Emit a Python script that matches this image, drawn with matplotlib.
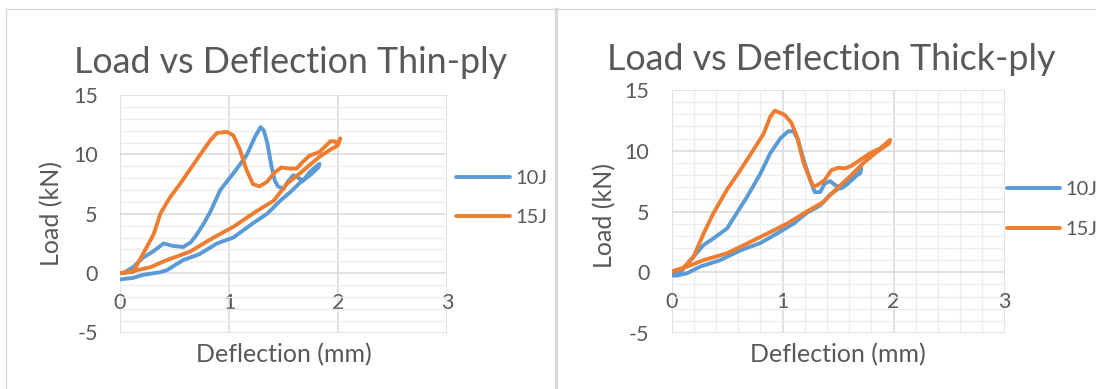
import matplotlib
matplotlib.use('Agg')
import matplotlib.pyplot as plt
from matplotlib.lines import Line2D
from matplotlib.ticker import MultipleLocator, NullLocator

plt.rcParams['font.family'] = ['Lato', 'DejaVu Sans']
plt.rcParams['axes.unicode_minus'] = False

W, H, DPI = 1096, 389, 100
TXT = '#595959'
GRID_MAJ = '#D9D9D9'
GRID_MIN = '#EDEDED'

series_names = ['10J', '15J']
series_colors = ['#5B9BD5', '#ED7D31']
titles = ['Load vs Deflection Thin-ply', 'Load vs Deflection Thick-ply']
x_label = 'Deflection (mm)'
y_label = 'Load (kN)'

# ---- Thin-ply data (loading then unloading) ----
thin_10J_x = [0.03, 0.12, 0.21, 0.30, 0.40, 0.48, 0.58, 0.65, 0.70, 0.77, 0.83, 0.92, 1.04, 1.16, 1.24,
              1.29, 1.32, 1.35, 1.39, 1.42, 1.45, 1.50, 1.54, 1.59, 1.64, 1.68, 1.74, 1.80, 1.83,
              1.82, 1.75, 1.65, 1.56, 1.47, 1.35, 1.22, 1.04, 0.89, 0.73, 0.58, 0.43, 0.37, 0.21, 0.12, 0.00]
thin_10J_y = [0.0, 0.5, 1.3, 1.8, 2.5, 2.3, 2.2, 2.6, 3.2, 4.2, 5.2, 7.0, 8.4, 9.9, 11.5,
              12.3, 12.0, 11.0, 9.0, 7.8, 7.3, 7.1, 7.7, 8.25, 8.0, 7.8, 8.5, 9.0, 9.2,
              8.9, 8.3, 7.6, 6.8, 6.1, 5.0, 4.2, 3.0, 2.5, 1.6, 1.1, 0.25, 0.08, -0.15, -0.4, -0.53]

thin_15J_x = [0.00, 0.12, 0.21, 0.31, 0.37, 0.46, 0.55, 0.64, 0.73, 0.83, 0.89, 0.98, 1.04, 1.10, 1.16,
              1.22, 1.28, 1.35, 1.41, 1.48, 1.56, 1.62, 1.68, 1.74, 1.83, 1.93, 1.97, 2.00, 2.02,
              1.99, 1.93, 1.83, 1.74, 1.65, 1.53, 1.41, 1.25, 1.04, 0.86, 0.64, 0.43, 0.28, 0.12, 0.00]
thin_15J_y = [0.0, 0.1, 1.6, 3.3, 5.0, 6.4, 7.5, 8.7, 9.9, 11.2, 11.8, 11.9, 11.6, 10.4, 8.7,
              7.5, 7.3, 7.7, 8.4, 8.9, 8.8, 8.8, 9.4, 9.9, 10.2, 11.1, 11.1, 10.8, 11.35,
              10.7, 10.4, 9.8, 9.1, 8.4, 7.5, 6.1, 5.2, 3.9, 3.0, 1.8, 1.1, 0.5, 0.17, 0.0]

# ---- Thick-ply data (loading then unloading) ----
thick_10J_x = [0.00, 0.10, 0.20, 0.29, 0.38, 0.50, 0.59, 0.68, 0.80, 0.89, 0.98, 1.05, 1.10, 1.14, 1.19,
               1.25, 1.29, 1.34, 1.38, 1.43, 1.47, 1.53, 1.59, 1.65, 1.70, 1.71,
               1.70, 1.64, 1.53, 1.43, 1.34, 1.22, 1.10, 0.98, 0.80, 0.62, 0.44, 0.26, 0.14, 0.05, 0.00]
thick_10J_y = [-0.2, 0.2, 1.3, 2.25, 2.8, 3.6, 4.9, 6.2, 8.1, 9.8, 11.0, 11.6, 11.6, 10.9, 9.25,
               7.6, 6.6, 6.6, 7.3, 7.5, 7.2, 6.9, 7.3, 7.9, 8.15, 8.6,
               8.3, 7.7, 7.05, 6.4, 5.5, 4.9, 4.0, 3.35, 2.4, 1.8, 1.0, 0.47, -0.08, -0.27, -0.27]

thick_15J_x = [0.00, 0.10, 0.20, 0.29, 0.38, 0.50, 0.62, 0.74, 0.83, 0.89, 0.93, 0.96, 1.02, 1.08, 1.13,
               1.19, 1.25, 1.28, 1.32, 1.38, 1.44, 1.50, 1.56, 1.62, 1.70, 1.79, 1.88, 1.97,
               1.96, 1.85, 1.73, 1.61, 1.49, 1.37, 1.22, 1.04, 0.80, 0.50, 0.29, 0.14, 0.00]
thick_15J_y = [0.05, 0.3, 1.3, 3.2, 4.9, 6.8, 8.4, 10.1, 11.4, 12.8, 13.3, 13.2, 12.95, 12.3, 11.2,
               9.0, 7.6, 7.05, 7.2, 7.6, 8.4, 8.6, 8.55, 8.75, 9.25, 9.8, 10.2, 10.9,
               10.6, 9.9, 9.0, 7.9, 6.9, 5.8, 5.0, 4.0, 2.9, 1.56, 1.0, 0.47, 0.05]

panels = [
    dict(title=titles[0], data=[(thin_10J_x, thin_10J_y), (thin_15J_x, thin_15J_y)], minor_x=False,
         box=(120, 95, 447, 332.5), title_pos=(291, 73.3), xlab_pos=(284, 362), ylab_pos=(52, 213),
         legend=(456, 510, [176.7, 216], 515)),
    dict(title=titles[1], data=[(thick_10J_x, thick_10J_y), (thick_15J_x, thick_15J_y)], minor_x=True,
         box=(671.5, 90, 1004.5, 333), title_pos=(831, 70), xlab_pos=(838, 362), ylab_pos=(605, 215),
         legend=(1007, 1060, [188, 228], 1065)),
]

fig = plt.figure(figsize=(W / DPI, H / DPI), dpi=DPI)
fig.patch.set_facecolor('white')


def fx(px):
    return px / W


def fy(py):
    return 1 - py / H


# chart borders
fig.add_artist(Line2D([fx(5.5), fx(5.5)], [fy(8.5), 0], color=GRID_MAJ, lw=1.0, transform=fig.transFigure))
fig.add_artist(Line2D([fx(5.5), 1], [fy(8.5), fy(8.5)], color=GRID_MAJ, lw=1.0, transform=fig.transFigure))
fig.add_artist(Line2D([fx(555.8), fx(555.8)], [fy(8.5), 0], color=GRID_MAJ, lw=2.3, transform=fig.transFigure))

for p in panels:
    l, t, r, b = p['box']
    w, h = r - l, b - t
    ax = fig.add_axes([fx(l), fy(b), w / W, h / H])
    for (xs, ys), c, name in zip(p['data'], series_colors, series_names):
        ax.plot(xs, ys, color=c, lw=2.8, solid_joinstyle='round', solid_capstyle='round', label=name)
    ax.set_xlim(0, 3)
    ax.set_ylim(-5, 15)
    ax.xaxis.set_major_locator(MultipleLocator(1))
    ax.yaxis.set_major_locator(MultipleLocator(5))
    ax.yaxis.set_minor_locator(MultipleLocator(1))
    if p['minor_x']:
        ax.xaxis.set_minor_locator(MultipleLocator(0.2))
    else:
        ax.xaxis.set_minor_locator(NullLocator())
    ax.grid(which='minor', color=GRID_MIN, lw=1.0)
    ax.grid(which='major', color=GRID_MAJ, lw=1.1)
    ax.set_axisbelow(True)
    for s in ax.spines.values():
        s.set_visible(False)
    ax.spines['bottom'].set_position(('data', 0))
    ax.tick_params(which='both', length=0, labelcolor=TXT, labelsize=15.5)
    ax.tick_params(axis='x', pad=14)
    ax.tick_params(axis='y', pad=16)

    tx, ty = p['title_pos']
    ax.set_title(p['title'], fontsize=25.8, color=TXT, va='baseline',
                 x=(tx - l) / w, y=(b - ty) / h, pad=0)
    ax.set_xlabel(x_label, fontsize=18, color=TXT, va='baseline')
    xx, xy = p['xlab_pos']
    ax.xaxis.set_label_coords((xx - l) / w, (b - xy) / h)
    ax.set_ylabel(y_label, fontsize=18, color=TXT, va='center')
    yx, yy = p['ylab_pos']
    ax.yaxis.set_label_coords((yx - l) / w, (b - yy) / h)

    # legend
    x0, x1, ys_leg, txx = p['legend']
    for c, name, yl in zip(series_colors, series_names, ys_leg):
        fig.add_artist(Line2D([fx(x0), fx(x1)], [fy(yl), fy(yl)], color=c, lw=2.8,
                              solid_capstyle='round', transform=fig.transFigure))
        fig.text(fx(txx), fy(yl), name, color=TXT, fontsize=14.5, va='center_baseline', ha='left')

fig.savefig('out.png', dpi=DPI)
